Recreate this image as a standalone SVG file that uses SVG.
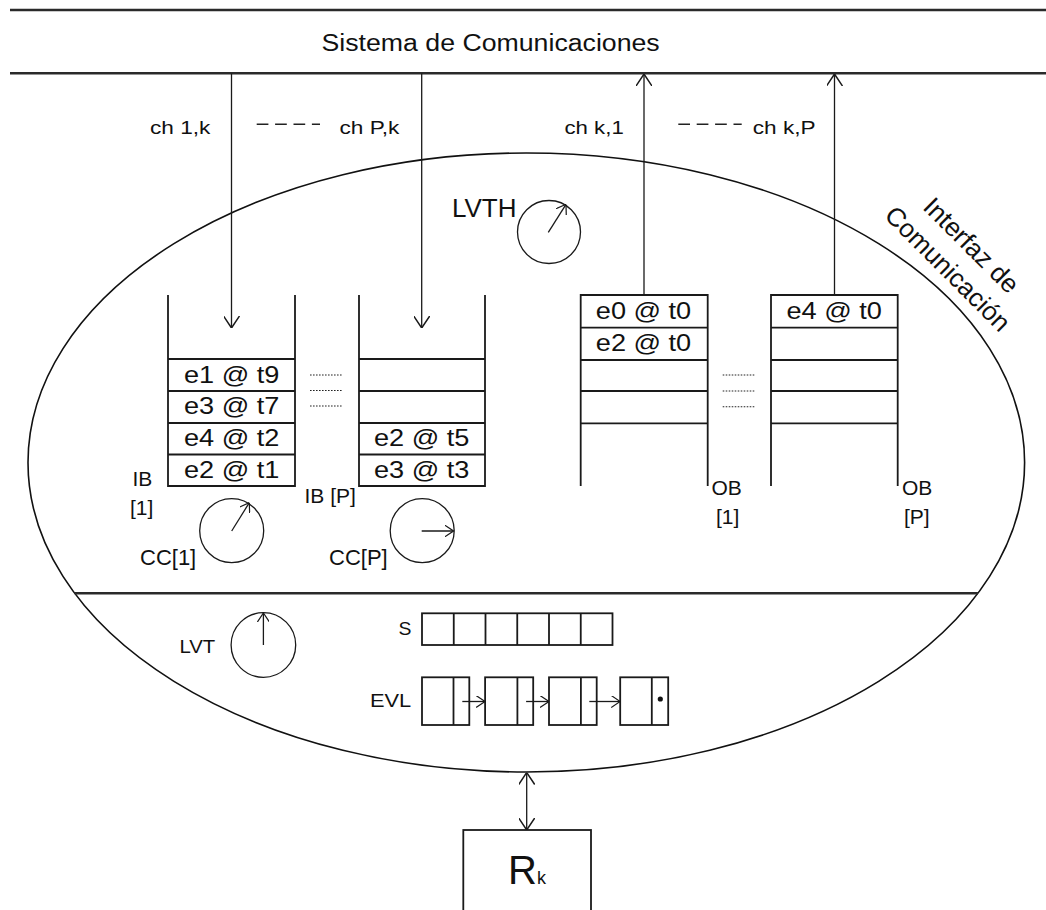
<svg xmlns="http://www.w3.org/2000/svg" width="1046" height="910" viewBox="0 0 1046 910">
<style>
  text { font-family: "Liberation Sans", Arial, sans-serif; fill: #111; }
  .ln { stroke: #1a1a1a; stroke-width: 1.8; fill: none; }
  .thin { stroke: #1a1a1a; stroke-width: 1.3; fill: none; }
  .bar { stroke: #2a2a2a; stroke-width: 2.4; fill: none; }
  .dots { stroke: #222; stroke-width: 1.1; stroke-dasharray: 1.6 1.4; fill: none; }
  .dash { stroke: #222; stroke-width: 1.4; stroke-dasharray: 11.7 6.7; fill: none; }
  .slot { font-size: 23px; text-anchor: middle; }
  .lbl { font-size: 21px; }
  .ch { font-size: 19px; }
</style>
<defs>
  <marker id="arr" viewBox="0 0 12 16" refX="12" refY="8" markerWidth="12" markerHeight="16" markerUnits="userSpaceOnUse" orient="auto-start-reverse">
    <path d="M0,0 L12,8 L0,16" fill="none" stroke="#1a1a1a" stroke-width="1.5"/>
  </marker>
  <marker id="arrS" viewBox="0 0 9 12" refX="9" refY="6" markerWidth="9" markerHeight="12" markerUnits="userSpaceOnUse" orient="auto">
    <path d="M0,0 L9,6 L0,12" fill="none" stroke="#1a1a1a" stroke-width="1.2"/>
  </marker>
</defs>

<g id="sistema">
  <line class="bar" x1="10" y1="10" x2="1046" y2="10"/>
  <line class="bar" x1="10" y1="73.3" x2="1046" y2="73.3"/>
  <text transform="translate(321.5,50.7) scale(1.09,1)" font-size="24.5">Sistema de Comunicaciones</text>
</g>

<g id="channel-labels">
  <text class="ch" transform="translate(150,134.3) scale(1.19,1)">ch 1,k</text>
  <line class="dash" x1="256.7" y1="124.3" x2="320" y2="124.3"/>
  <text class="ch" transform="translate(339.5,134.3) scale(1.19,1)">ch P,k</text>
  <text class="ch" transform="translate(564.5,134.3) scale(1.17,1)">ch k,1</text>
  <line class="dash" x1="678.3" y1="124.3" x2="741.7" y2="124.3"/>
  <text class="ch" transform="translate(752.8,134.3) scale(1.19,1)">ch k,P</text>
</g>

<g id="interfaz">
  <ellipse cx="526.3" cy="462.5" rx="498.3" ry="309.5" fill="none" stroke="#111" stroke-width="1.6"/>
  <line class="bar" x1="74.7" y1="593.3" x2="978" y2="593.3"/>
  <g transform="translate(921.7,208.2) rotate(45)">
    <text x="0" y="0" font-size="26">Interfaz de</text>
    <text x="-21.1" y="33.2" font-size="26">Comunicación</text>
  </g>
</g>

<g id="lvth">
  <text x="452" y="217.3" font-size="26">LVTH</text>
  <circle cx="549" cy="232" r="31.5" class="thin" stroke-width="1.1"/>
  <line class="thin" stroke-width="1.1" x1="548.3" y1="232.3" x2="566" y2="204.3" marker-end="url(#arrS)"/>
</g>

<g id="ib1">
  <path class="ln" d="M168,295 V486 H295 V295 M168,359 H295 M168,391 H295 M168,423 H295 M168,454.5 H295"/>
  <text class="slot" transform="translate(231.7,382.5) scale(1.18,1)">e1 @ t9</text>
  <text class="slot" transform="translate(231.7,414) scale(1.18,1)">e3 @ t7</text>
  <text class="slot" transform="translate(231.7,446) scale(1.18,1)">e4 @ t2</text>
  <text class="slot" transform="translate(231.7,477.5) scale(1.18,1)">e2 @ t1</text>
  <text class="lbl" x="132.5" y="486">IB</text>
  <text class="lbl" x="130" y="515">[1]</text>
</g>

<g id="ibP">
  <path class="ln" d="M359,295 V486 H485 V295 M359,359 H485 M359,391 H485 M359,423 H485 M359,454.5 H485"/>
  <text class="slot" transform="translate(421.7,446) scale(1.18,1)">e2 @ t5</text>
  <text class="slot" transform="translate(421.7,477.5) scale(1.18,1)">e3 @ t3</text>
  <text class="lbl" x="304.5" y="502.5">IB [P]</text>
</g>

<g id="ib-dots">
  <line class="dots" x1="310" y1="375" x2="342.3" y2="375"/>
  <line class="dots" x1="310" y1="390.5" x2="342.3" y2="390.5"/>
  <line class="dots" x1="310" y1="406" x2="342.3" y2="406"/>
</g>

<g id="cc1">
  <circle cx="231.7" cy="530.7" r="32" class="thin" stroke-width="1.1"/>
  <line class="thin" stroke-width="1.1" x1="231.7" y1="531" x2="249.3" y2="502.7" marker-end="url(#arrS)"/>
  <text x="140" y="565" font-size="22">CC[1]</text>
</g>

<g id="ccP">
  <circle cx="422.2" cy="530.7" r="32" class="thin" stroke-width="1.1"/>
  <line class="thin" stroke-width="1.1" x1="421.7" y1="531" x2="453.5" y2="531" marker-end="url(#arrS)"/>
  <text x="329" y="565" font-size="22">CC[P]</text>
</g>

<g id="ob1">
  <path class="ln" d="M580.7,486 V295 H707.7 V486 M580.7,327.7 H707.7 M580.7,360 H707.7 M580.7,391 H707.7 M580.7,423.3 H707.7"/>
  <text class="slot" transform="translate(643.5,319.3) scale(1.18,1)">e0 @ t0</text>
  <text class="slot" transform="translate(643.5,351) scale(1.18,1)">e2 @ t0</text>
  <text class="lbl" x="711.5" y="495">OB</text>
  <text class="lbl" x="716" y="524">[1]</text>
</g>

<g id="obP">
  <path class="ln" d="M771,486 V295 H897.7 V486 M771,327.7 H897.7 M771,360 H897.7 M771,391 H897.7 M771,423.3 H897.7"/>
  <text class="slot" transform="translate(834.2,319.3) scale(1.18,1)">e4 @ t0</text>
  <text class="lbl" x="902" y="495">OB</text>
  <text class="lbl" x="904" y="524">[P]</text>
</g>

<g id="ob-dots">
  <line class="dots" x1="722.7" y1="375" x2="755" y2="375"/>
  <line class="dots" x1="722.7" y1="391" x2="755" y2="391"/>
  <line class="dots" x1="722.7" y1="406.7" x2="755" y2="406.7"/>
</g>

<g id="lvt">
  <text transform="translate(179.5,652.5) scale(1.1,1)" font-size="18.5">LVT</text>
  <circle cx="263.4" cy="645" r="32.3" class="thin" stroke-width="1.1"/>
  <line class="thin" stroke-width="1.1" x1="263.4" y1="645" x2="263.4" y2="613" marker-end="url(#arrS)"/>
</g>

<g id="s">
  <text transform="translate(398.5,635) scale(1.05,1)" font-size="18.5">S</text>
  <rect x="422" y="613.3" width="190.5" height="31.7" class="ln" stroke-width="1.5"/>
  <path class="ln" stroke-width="1.5" d="M453.75,613.3 V645 M485.5,613.3 V645 M517.25,613.3 V645 M549,613.3 V645 M580.75,613.3 V645"/>
</g>

<g id="evl">
  <text transform="translate(370,707) scale(1.18,1)" font-size="18.5">EVL</text>
  <rect x="422" y="677.3" width="47.3" height="47.7" class="ln" stroke-width="1.5"/>
  <line class="ln" stroke-width="1.5" x1="453.5" y1="677.3" x2="453.5" y2="725"/>
  <rect x="485.1" y="677.3" width="48.1" height="47.7" class="ln" stroke-width="1.5"/>
  <line class="ln" stroke-width="1.5" x1="517.4" y1="677.3" x2="517.4" y2="725"/>
  <rect x="549" y="677.3" width="47.7" height="47.7" class="ln" stroke-width="1.5"/>
  <line class="ln" stroke-width="1.5" x1="580.9" y1="677.3" x2="580.9" y2="725"/>
  <rect x="620.2" y="677.3" width="48" height="47.7" class="ln" stroke-width="1.5"/>
  <line class="ln" stroke-width="1.5" x1="651.8" y1="677.3" x2="651.8" y2="725"/>
  <circle cx="660.3" cy="699" r="2.6" fill="#111"/>
</g>

<g id="rk">
  <rect x="463.3" y="830" width="127.7" height="100" class="ln" stroke-width="1.6"/>
  <text x="508" y="884" font-size="40">R<tspan font-size="18">k</tspan></text>
</g>

<g id="connectors">
  <line class="thin" stroke-width="1.5" x1="231.5" y1="73.3" x2="231.5" y2="328" marker-end="url(#arr)"/>
  <line class="thin" stroke-width="1.5" x1="421.7" y1="73.3" x2="421.7" y2="328" marker-end="url(#arr)"/>
  <line class="thin" stroke-width="1.5" x1="644" y1="295" x2="644" y2="74" marker-end="url(#arr)"/>
  <line class="thin" stroke-width="1.5" x1="834.5" y1="295" x2="834.5" y2="74" marker-end="url(#arr)"/>
  <line class="thin" stroke-width="1.2" x1="462.3" y1="701.5" x2="485.1" y2="701.5" marker-end="url(#arrS)"/>
  <line class="thin" stroke-width="1.2" x1="526.1" y1="701.5" x2="549" y2="701.5" marker-end="url(#arrS)"/>
  <line class="thin" stroke-width="1.2" x1="589.3" y1="701.5" x2="620.2" y2="701.5" marker-end="url(#arrS)"/>
  <line class="thin" stroke-width="1.5" x1="526.7" y1="772.5" x2="526.7" y2="830" marker-start="url(#arr)" marker-end="url(#arr)"/>
</g>
</svg>
